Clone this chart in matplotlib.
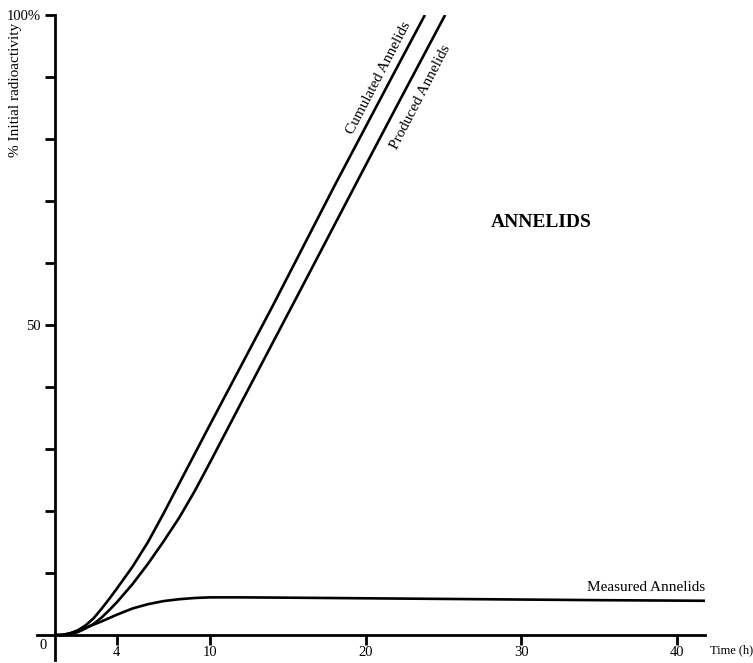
import matplotlib.pyplot as plt

# Data (time in hours, % initial radioactivity)
t_cum = [0, 0.5, 1, 1.5, 2, 2.5, 3, 3.5, 4, 5, 6, 7, 8, 9, 10, 14, 18, 22, 23.8]
v_cum = [0, 0.05, 0.3, 0.8, 1.6, 2.7, 4.2, 5.8, 7.5, 11, 15, 19.6, 24.4, 29.2, 34, 53, 72.5, 91.5, 100]

t_prod = [0, 0.5, 1, 1.5, 2, 2.5, 3, 3.5, 4, 5, 6, 7, 8, 9, 10, 12, 16, 20, 22.2, 25.1]
v_prod = [0, 0.05, 0.2, 0.5, 1.1, 1.8, 2.8, 4, 5.3, 8.2, 11.5, 15.1, 18.9, 23.2, 27.9, 37.5, 56.6, 75.8, 86.3, 100]

t_meas = [0, 0.5, 1, 1.5, 2, 3, 4, 5, 6, 7, 8, 9, 10, 12, 15, 20, 25, 30, 35, 41.8]
v_meas = [0, 0.05, 0.3, 0.7, 1.2, 2.2, 3.3, 4.3, 5.0, 5.5, 5.8, 6.0, 6.1, 6.1, 6.05, 5.95, 5.85, 5.75, 5.65, 5.55]

x_ticks = [4, 10, 20, 30, 40]
y_ticks = [10, 20, 30, 40, 50, 60, 70, 80, 90, 100]

plt.rcParams['font.family'] = ['Liberation Serif', 'DejaVu Serif']

fig = plt.figure(figsize=(7.53, 6.63), dpi=100)
ax = fig.add_axes([0.0497, 0.0045, 0.8866, 0.973])

lw = 1.9
ax.plot(t_cum, v_cum, color='black', lw=lw, solid_capstyle='butt')
ax.plot(t_prod, v_prod, color='black', lw=lw, solid_capstyle='butt')
ax.plot(t_meas, v_meas, color='black', lw=lw, solid_capstyle='butt')

ax.set_xlim(-1.1, 41.8)
ax.set_ylim(-4, 100)

for s in ['top', 'right']:
    ax.spines[s].set_visible(False)
ax.spines['left'].set_position(('data', 0))
ax.spines['bottom'].set_position(('data', 0))
ax.spines['left'].set_linewidth(2)
ax.spines['bottom'].set_linewidth(2)

ax.set_xticks(x_ticks)
ax.set_xticklabels([str(v) for v in x_ticks], fontsize=10.5)
ax.set_yticks(y_ticks)
ax.set_yticklabels(['50' if v == 50 else ('100%' if v == 100 else '') for v in y_ticks], fontsize=10.5)
ax.tick_params(axis='both', direction='out', length=7, width=2, pad=3)
ax.tick_params(axis='x', pad=0.5)

ax.text(-0.75, -1.6, '0', fontsize=10.5, ha='center', va='center')
ax.text(42.1, -2.4, 'Time (h)', fontsize=9, ha='left', va='center')

fig.text(0.02, 0.865, '% Initial radioactivity', rotation=90, fontsize=11,
         ha='center', va='center')

ax.text(20.8, 89.8, 'Cumulated Annelids', rotation=62.5, fontsize=11,
        ha='center', va='center', rotation_mode='anchor')
ax.text(23.5, 86.8, 'Produced Annelids', rotation=62.5, fontsize=11,
        ha='center', va='center', rotation_mode='anchor')
ax.text(41.8, 7.7, 'Measured Annelids', fontsize=11, ha='right', va='center')
ax.text(31.3, 66.6, 'ANNELIDS', fontsize=14, fontweight='bold', ha='center', va='center')

fig.savefig('out.png', dpi=100)
